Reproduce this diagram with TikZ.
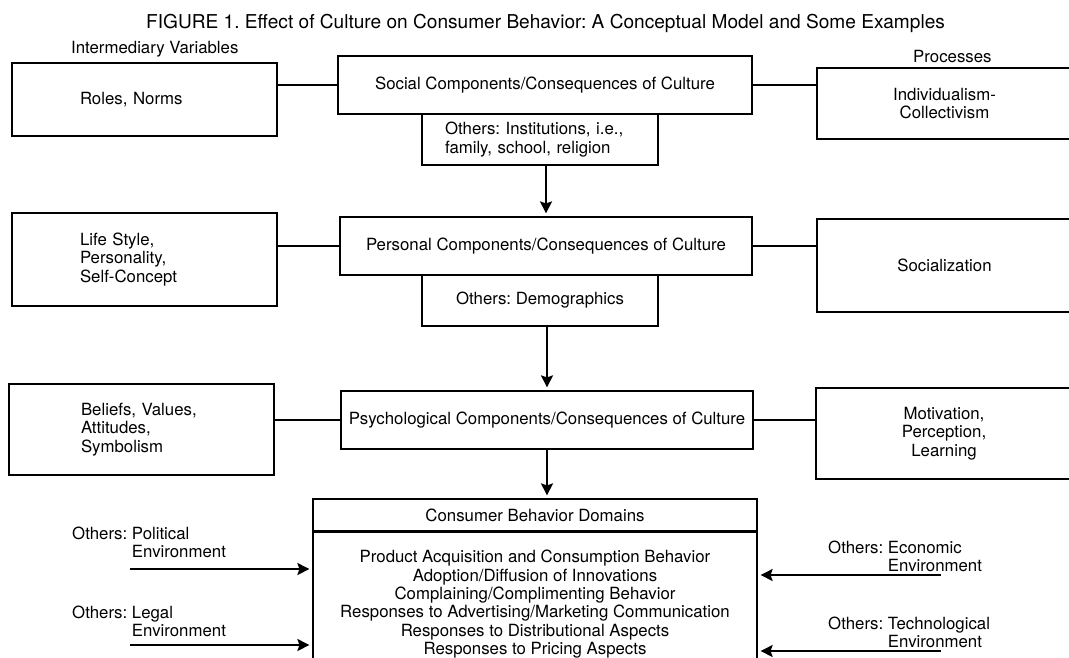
\documentclass[tikz,border=0pt]{standalone}
\usepackage{fontspec}
\setmainfont{TeX Gyre Heros}
\usepackage{tikz}
\usetikzlibrary{arrows.meta, positioning}
\frenchspacing

\begin{document}
\begin{tikzpicture}[x=1pt, y=-1pt,
	font=\fontsize{16.8}{18.4}\selectfont,
	box/.style={draw, line width=1.2pt, rectangle, inner xsep=3pt, inner ysep=0pt, align=center},
	sidebox/.style={box, align=left, inner xsep=68pt, text width=129pt},
	hd/.style={inner sep=0pt},
	txt/.style={inner sep=0pt, align=left},
	link/.style={line width=1.2pt},
	arr/.style={line width=1.8pt, -{Stealth[length=12pt, width=12pt, inset=2pt]}, shorten >=3pt}]
	% page
	\useasboundingbox (0,0) rectangle (1069,657);
	\clip (0,0) rectangle (1069,657);
	% title and headings
	\node[hd, anchor=base west, font=\fontsize{19.1}{22}\selectfont] (title) at (146,28) {FIGURE 1. Effect of Culture on Consumer Behavior: A Conceptual Model and Some Examples};
	\node[hd, anchor=base west] (intvar) at (71,53) {Intermediary Variables};
	\node[hd, anchor=base west] (proc) at (913,62) {Processes};
	% intermediary variables
	\node[sidebox, minimum height=73pt] (roles) at (144.5,99.5) {Roles, Norms};
	\node[sidebox, minimum height=93pt] (life) at (144.5,259.5) {Life Style,\\Personality,\\Self-Concept};
	\node[sidebox, minimum height=91pt, inner xsep=72pt, text width=121pt] (belief) at (141.5,429.5) {Beliefs, Values,\\Attitudes,\\Symbolism};
	% components/consequences of culture
	\node[box, minimum width=414pt, minimum height=58pt] (social) at (545,85) {Social Components/Consequences of Culture};
	\node[box, minimum height=51pt, align=left, inner xsep=23pt, text width=190pt] (inst) at (540,139.5) {Others: Institutions, i.e.,\\family, school, religion};
	\node[box, minimum width=412pt, minimum height=58pt] (personal) at (546,246) {Personal Components/Consequences of Culture};
	\node[box, minimum width=236pt, minimum height=51pt] (demo) at (540,300.5) {Others: Demographics};
	\node[box, minimum width=412pt, minimum height=58pt] (psych) at (547,420) {Psychological Components/Consequences of Culture};
	% processes (boxes run off the page)
	\node[box, minimum width=255pt, minimum height=71pt] (indiv) at (944.5,103.5) {Individualism-\\Collectivism};
	\node[box, minimum width=255pt, minimum height=93pt] (socializ) at (944.5,265.5) {Socialization};
	\node[box, minimum width=256pt, minimum height=91pt] (motiv) at (944,433.5) {Motivation,\\Perception,\\Learning};
	% consumer behavior domains
	\node[box, minimum width=444pt, minimum height=32pt] (domhead) at (535,515) {Consumer Behavior Domains};
	\node[box, anchor=north, minimum width=444pt, inner ysep=18pt] (domains) at (domhead.south) {Product Acquisition and Consumption Behavior\\Adoption/Diffusion of Innovations\\Complaining/Complimenting Behavior\\Responses to Advertising/Marketing Communication\\Responses to Distributional Aspects\\Responses to Pricing Aspects};
	% other influences
	\node[txt, anchor=north west] (polit) at (72,526.7) {Others: Political\\\hphantom{Others: }Environment};
	\node[txt, anchor=north west] (legal) at (72,605.7) {Others: Legal\\\hphantom{Others: }Environment};
	\node[txt, anchor=north west] (econ) at (828,540.7) {Others: Economic\\\hphantom{Others: }Environment};
	\node[txt, anchor=north west] (techn) at (828,616.7) {Others: Technological\\\hphantom{Others: }Environment};
	\coordinate (politin) at (130,569);
	\coordinate (legalin) at (130,645);
	\coordinate (econin) at (941,575);
	\coordinate (technin) at (941,651);
	% links
	\draw[link] (roles.east |- social.west) -- (social.west);
	\draw[link] (social.east) -- (social.east -| indiv.west);
	\draw[link] (life.east |- personal.west) -- (personal.west);
	\draw[link] (personal.east) -- (personal.east -| socializ.west);
	\draw[link] (belief.east |- psych.west) -- (psych.west);
	\draw[link] (psych.east) -- (psych.east -| motiv.west);
	% arrows
	\draw[arr] (inst.south -| personal.north) -- (personal.north);
	\draw[arr] (demo.south -| psych.north) -- (psych.north);
	\draw[arr] (psych.south) -- (psych.south |- domhead.north);
	\draw[arr] (politin) -- (politin -| domains.west);
	\draw[arr] (legalin) -- (legalin -| domains.west);
	\draw[arr] (econin) -- (econin -| domains.east);
	\draw[arr] (technin) -- (technin -| domains.east);
\end{tikzpicture}
\end{document}
